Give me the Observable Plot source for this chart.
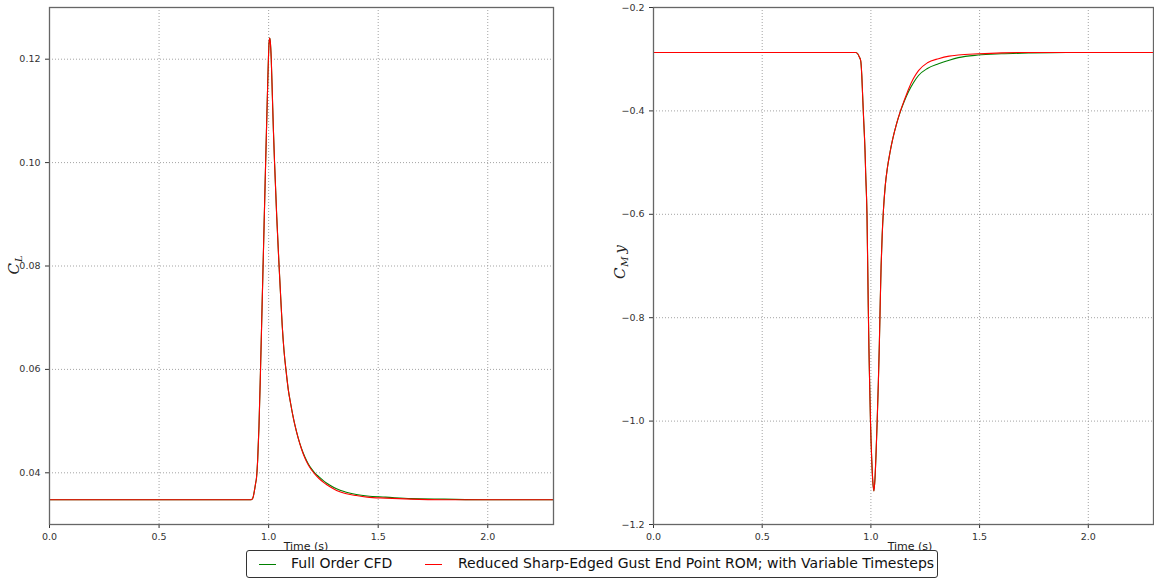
<!DOCTYPE html>
<html>
<head>
<meta charset="utf-8">
<script src="https://cdn.jsdelivr.net/npm/d3@7"></script>
<script src="https://cdn.jsdelivr.net/npm/@observablehq/plot@0.6"></script>
<style>
  body { margin: 0; background: #fff; font-family: "DejaVu Sans", sans-serif; }
  #wrap { position: relative; width: 1154px; height: 579px; overflow: hidden; }
  #wrap > div.p { position: absolute; top: 0; }
  #legend { position: absolute; left: 246px; top: 550px; width: 690px; height: 26px; border: 1px solid #333; border-radius: 3px; background: #fff; font-size: 14px; color: #111; }
  #legend .ln { position: absolute; top: 13px; width: 17px; height: 0; border-top: 1px solid; }
  #legend .tx { position: absolute; top: 4px; white-space: nowrap; }
</style>
</head>
<body>
<div id="wrap">
  <div class="p" id="left" style="left:0px"></div>
  <div class="p" id="right" style="left:600px"></div>
  <div id="legend">
    <div class="ln" style="left:12px;border-color:#008000"></div>
    <div class="tx" style="left:44px">Full Order CFD</div>
    <div class="ln" style="left:178px;border-color:#ff0000"></div>
    <div class="tx" style="left:211px">Reduced Sharp-Edged Gust End Point ROM; with Variable Timesteps</div>
  </div>
</div>
<script>
// ---- Data ----
const seriesNames = ["Full Order CFD", "Reduced Sharp-Edged Gust End Point ROM; with Variable Timesteps"];
const seriesColors = ["#008000", "#ff0000"];

// Lift coefficient C_L
const clTime = [0, 0.920, 0.925, 0.930, 0.935, 0.940, 0.945, 0.950, 0.956, 0.963, 0.970, 0.977, 0.984, 0.990, 0.995, 0.999, 1.002, 1.005, 1.008, 1.012, 1.017, 1.022, 1.027, 1.037, 1.047, 1.055, 1.062, 1.070, 1.081, 1.090, 1.100, 1.110, 1.120, 1.135, 1.150, 1.165, 1.180, 1.195, 1.210, 1.230, 1.255, 1.280, 1.310, 1.350, 1.400, 1.450, 1.534, 1.650, 1.800, 2.000, 2.300];
const clCFD  = [0.0348, 0.0348, 0.0349, 0.0354, 0.0365, 0.0378, 0.0392, 0.0425, 0.0490, 0.0600, 0.0720, 0.0840, 0.0960, 0.1060, 0.1140, 0.1200, 0.1232, 0.1241, 0.1232, 0.1200, 0.1130, 0.1060, 0.1000, 0.0895, 0.0806, 0.0740, 0.0685, 0.0637, 0.0592, 0.0560, 0.0535, 0.0512, 0.0492, 0.0467, 0.0447, 0.0431, 0.0418, 0.0408, 0.0400, 0.0392, 0.0383, 0.0376, 0.0369, 0.0363, 0.0358, 0.0355, 0.0353, 0.0350, 0.0349, 0.0348, 0.0348];
const clROM  = [0.0348, 0.0348, 0.0349, 0.0354, 0.0365, 0.0378, 0.0392, 0.0425, 0.0490, 0.0600, 0.0720, 0.0840, 0.0960, 0.1060, 0.1140, 0.1200, 0.1232, 0.1241, 0.1232, 0.1200, 0.1130, 0.1060, 0.1000, 0.0895, 0.0806, 0.0740, 0.0685, 0.0637, 0.0592, 0.0560, 0.0535, 0.0512, 0.0492, 0.0467, 0.0446, 0.0429, 0.0416, 0.0406, 0.0398, 0.0389, 0.0380, 0.0373, 0.0366, 0.0360, 0.0356, 0.0353, 0.0351, 0.0349, 0.0348, 0.0348, 0.0348];

// Moment coefficient C_M y
const cmTime = [0, 0.930, 0.940, 0.947, 0.953, 0.958, 0.962, 0.966, 0.973, 0.976, 0.982, 0.988, 0.991, 0.994, 0.998, 1.004, 1.009, 1.014, 1.019, 1.024, 1.029, 1.034, 1.039, 1.043, 1.047, 1.052, 1.058, 1.066, 1.076, 1.088, 1.100, 1.118, 1.136, 1.155, 1.174, 1.195, 1.219, 1.260, 1.311, 1.360, 1.402, 1.493, 1.600, 1.735, 1.900, 2.300];
const cmCFD  = [-0.287, -0.287, -0.290, -0.296, -0.3025, -0.330, -0.370, -0.410, -0.477, -0.520, -0.600, -0.780, -0.860, -0.921, -0.999, -1.076, -1.118, -1.135, -1.110, -1.060, -0.999, -0.930, -0.850, -0.770, -0.700, -0.640, -0.590, -0.545, -0.510, -0.480, -0.455, -0.425, -0.401, -0.380, -0.362, -0.346, -0.3315, -0.318, -0.309, -0.302, -0.297, -0.292, -0.2896, -0.288, -0.287, -0.287];
const cmROM  = [-0.287, -0.287, -0.290, -0.296, -0.3025, -0.330, -0.370, -0.410, -0.477, -0.520, -0.600, -0.780, -0.860, -0.921, -0.999, -1.076, -1.118, -1.135, -1.110, -1.060, -0.999, -0.930, -0.850, -0.770, -0.700, -0.640, -0.590, -0.545, -0.510, -0.480, -0.455, -0.425, -0.400, -0.378, -0.357, -0.338, -0.322, -0.307, -0.299, -0.294, -0.292, -0.2896, -0.2877, -0.287, -0.287, -0.287];

const xTicks = [0, 0.5, 1.0, 1.5, 2.0];
const clTicks = [0.04, 0.06, 0.08, 0.10, 0.12];
const cmTicks = [-1.2, -1.0, -0.8, -0.6, -0.4, -0.2];

// ---- Build tables ----
function table(t, a, b) {
  const rows = [];
  t.forEach((tt, i) => rows.push({t: tt, v: a[i], s: seriesNames[0]}));
  t.forEach((tt, i) => rows.push({t: tt, v: b[i], s: seriesNames[1]}));
  return rows;
}
const clData = table(clTime, clCFD, clROM);
const cmData = table(cmTime, cmCFD, cmROM);

function panel(data, opts) {
  return Plot.plot({
    width: opts.width,
    height: 555,
    marginLeft: opts.ml,
    marginRight: opts.mr,
    marginTop: 7,
    marginBottom: 31,
    style: {fontFamily: "DejaVu Sans, sans-serif", fontSize: "9.5px", color: "#333", background: "transparent", overflow: "visible"},
    x: {domain: [0, 2.3], ticks: xTicks, tickFormat: d3.format(".1f"), label: null, tickSize: 4},
    y: {domain: opts.ydom, ticks: opts.yticks, tickFormat: d3.format(opts.yfmt), label: null, tickSize: 4},
    color: {domain: seriesNames, range: seriesColors},
    marks: [
      Plot.gridX(xTicks, {stroke: "#999", strokeOpacity: 0.9, strokeDasharray: "1,2"}),
      Plot.gridY(opts.yticks, {stroke: "#999", strokeOpacity: 0.9, strokeDasharray: "1,2"}),
      Plot.line(data, {x: "t", y: "v", z: "s", stroke: "s", strokeWidth: 1.1, curve: "monotone-x"}),
      Plot.frame({stroke: "#666", strokeWidth: 1.3})
    ]
  });
}

const left = panel(clData, {width: 580, ml: 49, mr: 27, ydom: [0.03, 0.13], yticks: clTicks, yfmt: ".2f"});
const right = panel(cmData, {width: 554, ml: 53, mr: 1, ydom: [-1.2, -0.2], yticks: cmTicks, yfmt: ".1f"});
document.getElementById("left").appendChild(left);
document.getElementById("right").appendChild(right);

function addLabels(svg, xLabelX, yLabelX, yLabelY, main, sub, extra) {
  const s = d3.select(svg);
  s.append("text").attr("x", xLabelX).attr("y", 550)
    .attr("text-anchor", "middle").attr("font-size", 11).attr("fill", "#222")
    .attr("font-family", "DejaVu Sans, sans-serif").text("Time (s)");
  const t = s.append("text")
    .attr("transform", `translate(${yLabelX},${yLabelY}) rotate(-90)`)
    .attr("text-anchor", "middle").attr("font-family", "DejaVu Serif, serif")
    .attr("font-style", "italic").attr("font-size", 15).attr("fill", "#222");
  t.append("tspan").text(main);
  t.append("tspan").attr("font-size", 10).attr("dy", 3).attr("dx", 1).text(sub);
  if (extra) t.append("tspan").attr("dy", -3).attr("dx", 3).text(extra);
}
addLabels(left, 306, 19, 265, "C", "L", null);
addLabels(right, 310, 25, 262, "C", "M", "y");
</script>
</body>
</html>
